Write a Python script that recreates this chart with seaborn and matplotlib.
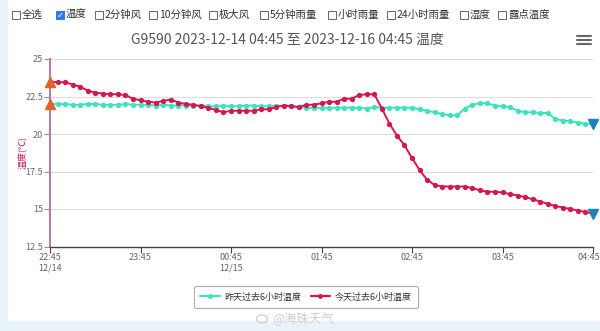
import numpy as np
import pandas as pd
import matplotlib
matplotlib.use("Agg")
import matplotlib.pyplot as plt
import matplotlib.transforms as mtransforms
from matplotlib.patches import Rectangle, Ellipse
from matplotlib.lines import Line2D
import seaborn as sns

sns.set_theme(style="white")
plt.rcParams['font.family'] = ['Noto Sans CJK SC', 'DejaVu Sans']

# ---------------- data ----------------
start_time = "2023-12-14 22:45"
yesterday_temp = [22.0, 22.0, 22.0, 21.95, 21.95, 22.0, 22.0, 21.95, 21.95, 21.95,
                  22.0, 21.95, 21.95, 21.95, 21.9, 21.95, 21.9, 21.9, 21.9, 21.9,
                  21.9, 21.85, 21.85, 21.9, 21.85, 21.85, 21.9, 21.9, 21.85, 21.85,
                  21.9, 21.85, 21.85, 21.8, 21.75, 21.75, 21.75, 21.75, 21.75, 21.75,
                  21.75, 21.75, 21.7, 21.8, 21.75, 21.75, 21.75, 21.75, 21.75, 21.65,
                  21.55, 21.45, 21.33, 21.25, 21.25, 21.7, 21.95, 22.05, 22.05, 21.9,
                  21.85, 21.8, 21.55, 21.45, 21.45, 21.4, 21.4, 21.0, 20.9, 20.85,
                  20.75, 20.7, 20.65]
today_temp = [23.5, 23.45, 23.45, 23.3, 23.15, 22.9, 22.75, 22.7, 22.65, 22.65,
              22.6, 22.35, 22.25, 22.15, 22.1, 22.2, 22.3, 22.1, 22.0, 21.95,
              21.85, 21.75, 21.6, 21.45, 21.55, 21.55, 21.55, 21.55, 21.65, 21.65,
              21.8, 21.9, 21.85, 21.8, 21.95, 21.95, 22.05, 22.15, 22.15, 22.35,
              22.35, 22.6, 22.65, 22.65, 21.7, 20.7, 19.9, 19.25, 18.4, 17.6,
              16.95, 16.6, 16.5, 16.5, 16.5, 16.5, 16.4, 16.25, 16.15, 16.15,
              16.1, 16.0, 15.9, 15.8, 15.65, 15.5, 15.35, 15.2, 15.1, 15.0,
              14.9, 14.8, 14.7]
series_names = ["昨天过去6小时温度", "今天过去6小时温度"]
series_colors = ["#3ee2bd", "#d4174f"]
tick_labels = ["22:45\n12/14", "23:45", "00:45\n12/15", "01:45", "02:45", "03:45", "04:45"]
y_ticks = [12.5, 15, 17.5, 20, 22.5, 25]
y_tick_labels = ["12.5", "15", "17.5", "20", "22.5", "25"]
checkbox_labels = ["全选", "温度", "2分钟风", "10分钟风", "极大风", "5分钟雨量",
                   "小时雨量", "24小时雨量", "湿度", "露点温度"]
checked = "温度"
title_text = "G9590 2023-12-14 04:45 至 2023-12-16 04:45 温度"
y_label = "温度(℃)"
watermark = "@海珠天气"

times = pd.date_range(start_time, periods=len(today_temp), freq="5min")
df = pd.DataFrame({
    "time": list(times) + list(times),
    "temp": yesterday_temp + today_temp,
    "series": [series_names[0]] * len(times) + [series_names[1]] * len(times),
})

W, H = 600, 331
fig = plt.figure(figsize=(W / 100, H / 100), dpi=100)
fig.patch.set_facecolor("#e9f3fa")
# white card
fig.add_artist(Rectangle((8 / W, 1 - 321 / H), 1, 321 / H, transform=fig.transFigure,
                         facecolor="white", edgecolor="none", zorder=0))

ax = fig.add_axes([50 / W, 1 - 246.5 / H, 543 / W, 187.5 / H])
ax.set_facecolor("white")

sns.lineplot(data=df, x="time", y="temp", hue="series", hue_order=series_names,
             palette=dict(zip(series_names, series_colors)), marker="o",
             markersize=3.8, markeredgewidth=0, linewidth=1.4, ax=ax,
             legend=False, zorder=3)

# max/min style triangle markers at series ends
for vals in (yesterday_temp, today_temp):
    ax.plot(times[0], vals[0], marker="^", color="#e0652b", markersize=7, zorder=5,
            clip_on=False, linestyle="none")
    ax.plot(times[-1], vals[-1], marker="v", color="#1d80c0", markersize=7, zorder=5,
            clip_on=False, linestyle="none")

ax.set_xlim(times[0], times[-1])
ax.set_ylim(12.5, 25)
ax.set_xticks(times[::12])
ax.set_xticklabels(tick_labels)
ax.set_yticks(y_ticks)
ax.set_yticklabels(y_tick_labels)
ax.set_xlabel("")
ax.set_ylabel(y_label, color="#c2185b", fontsize=6.5)
ax.yaxis.set_label_coords(-22 / 543, 0.5)

ax.yaxis.grid(True, color="#dedede", linewidth=0.8)
ax.xaxis.grid(False)
for s in ("top", "right"):
    ax.spines[s].set_visible(False)
ax.spines["left"].set_color("#b9799f")
ax.spines["left"].set_linewidth(1.4)
ax.spines["bottom"].set_color("#444444")
ax.spines["bottom"].set_linewidth(1.0)
ax.tick_params(axis="x", direction="out", length=4, width=0.8, color="#444444",
               labelsize=6.5, labelcolor="#666666", pad=1, bottom=True)
ax.tick_params(axis="y", direction="out", length=4, width=0.8, color="#b9799f",
               labelsize=6.5, labelcolor="#666666", pad=1, left=True)
# keep the last tick label inside the picture
last_lab = ax.get_xticklabels()[-1]
last_lab.set_transform(last_lab.get_transform() +
                       mtransforms.ScaledTranslation(-4 / 100, 0, fig.dpi_scale_trans))

# legend
handles = [Line2D([0], [0], color=c, marker="o", markersize=3.5, markeredgewidth=0,
                  linewidth=1.6) for c in series_colors]
leg = fig.legend(handles, series_names, loc="center", bbox_to_anchor=(306 / W, 1 - 297 / H),
                 ncol=2, fontsize=6.5, frameon=True, fancybox=True, handlelength=2.2,
                 handletextpad=0.5, columnspacing=1.0, borderpad=0.7)
leg.get_frame().set_edgecolor("#999999")
leg.get_frame().set_linewidth(0.8)
for t in leg.get_texts():
    t.set_color("#333333")

# title
fig.text(287 / W, 1 - 40 / H, title_text, ha="center", va="center", fontsize=10,
         color="#555555")

# checkbox row
box_x = [12, 56, 95, 149, 209, 260, 328, 387, 460, 498]
for x0, lab in zip(box_x, checkbox_labels):
    is_on = lab == checked
    fig.add_artist(Rectangle((x0 / W, 1 - 19 / H), 8 / W, 8 / H, transform=fig.transFigure,
                             facecolor="#2a7be4" if is_on else "white",
                             edgecolor="#2a7be4" if is_on else "#666666", linewidth=0.7))
    if is_on:
        fig.text((x0 + 4) / W, 1 - 15 / H, "✓", ha="center", va="center", fontsize=6,
                 color="white", family=["DejaVu Sans"], fontweight="bold")
    fig.text((x0 + 10) / W, 1 - 15 / H, lab, ha="left", va="center", fontsize=7.5,
             color="#333333")

# menu icon
for yy in (36, 40, 44):
    fig.add_artist(Line2D([577 / W, 591 / W], [1 - yy / H, 1 - yy / H],
                          transform=fig.transFigure, color="#666666", linewidth=1.5))

# watermark with a small logo-like mark
fig.add_artist(Ellipse((262 / W, 1 - 319 / H), 11 / W, 8 / H, transform=fig.transFigure,
                       facecolor="none", edgecolor="#d0d0d0", linewidth=1.0))
fig.text(272 / W, 1 - 318 / H, watermark, ha="left", va="center", fontsize=9,
         color="#cfcfcf")

fig.savefig("out.png", dpi=100, facecolor=fig.get_facecolor())
